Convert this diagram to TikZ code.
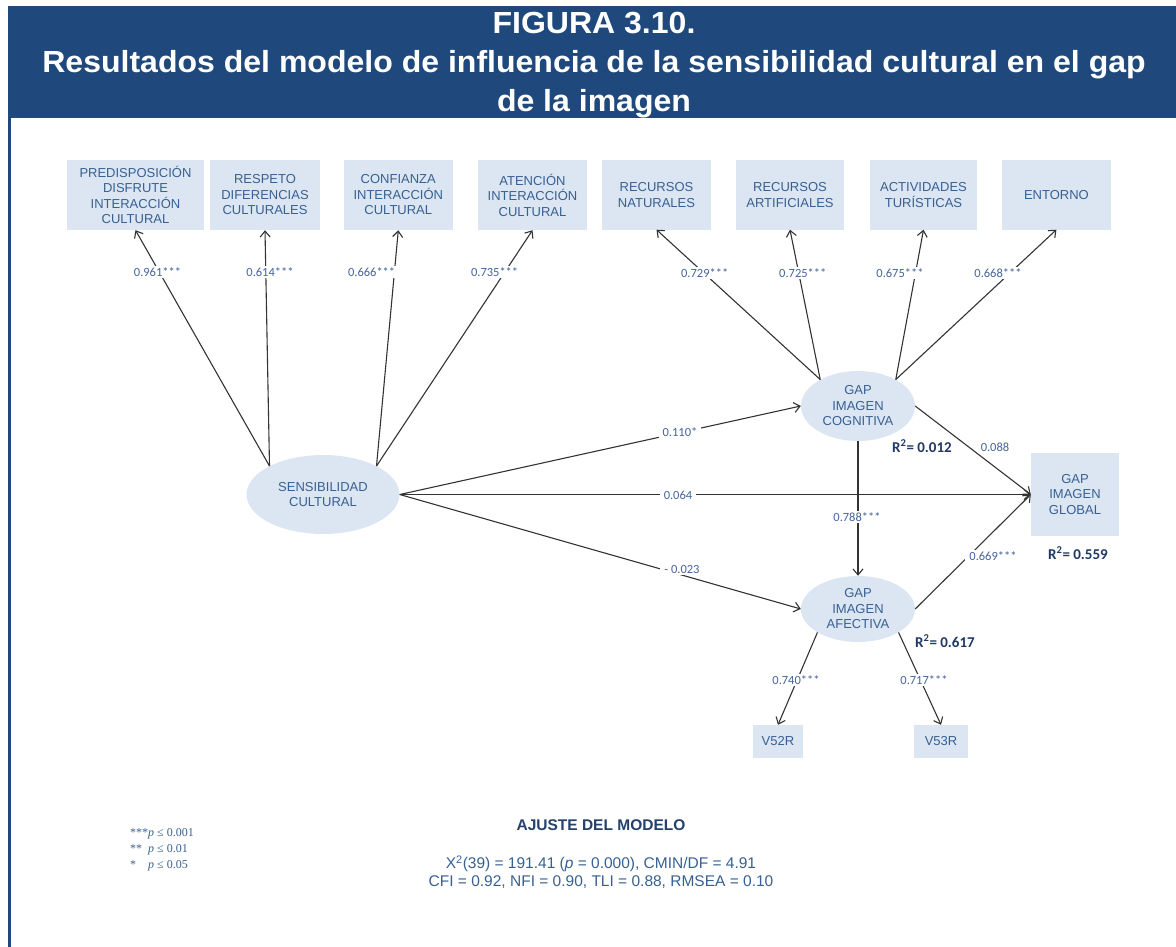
\documentclass[tikz,border=0pt]{standalone}
\usepackage{fontspec}
\setmainfont{Liberation Sans}
\newfontfamily\calibri{Carlito}
\newfontfamily\timesf{Liberation Serif}
\newfontfamily\titulof[FakeStretch=1.05]{Liberation Sans}
\usepackage{xcolor}
\usetikzlibrary{positioning,arrows.meta,shapes.geometric}

\definecolor{barra}{RGB}{31,73,125}
\definecolor{fondo}{RGB}{220,230,242}
\definecolor{texto}{RGB}{55,96,146}
\definecolor{coefazul}{RGB}{68,100,155}
\definecolor{rdos}{RGB}{31,56,100}

\begin{document}
\begin{tikzpicture}[x=1pt,y=-1pt,
    obs/.style={rectangle, fill=fondo, text=texto, align=center, inner sep=0pt,
        font=\fontsize{13}{15.5}\selectfont},
    lat/.style={ellipse, fill=fondo, text=texto, align=center, inner sep=0pt,
        font=\fontsize{13}{15.5}\selectfont},
    coef/.style={fill=white, text=coefazul, inner xsep=4pt, inner ysep=2pt,
        font=\calibri\fontsize{12.5}{14}\selectfont},
    rcuad/.style={text=rdos, inner sep=0pt, font=\calibri\bfseries\fontsize{15}{17}\selectfont},
    flecha/.style={draw=black!80, line width=1.1pt, -{Straight Barb[length=6pt,width=10pt]}}]
    \useasboundingbox (0,0) rectangle (1176,947);
    % Cabecera
    \fill[barra] (8,6) rectangle (1176,118);
    \fill[barra] (8,118) rectangle (11,947);
    \node[text=white, align=center, font=\titulof\bfseries\fontsize{30.5}{39}\selectfont] (titulo) at (594,65)
        {FIGURA 3.10.\\Resultados del modelo de influencia de la sensibilidad cultural en el gap\\de la imagen};
    % Indicadores de sensibilidad cultural
    \node[obs, minimum width=137, minimum height=70] (pred) at (135.5,195) {PREDISPOSICIÓN\\DISFRUTE\\INTERACCIÓN\\CULTURAL};
    \node[obs, minimum width=110, minimum height=70] (resp) at (265,195) {RESPETO\\DIFERENCIAS\\CULTURALES};
    \node[obs, minimum width=109, minimum height=70] (conf) at (398.3,195) {CONFIANZA\\INTERACCIÓN\\CULTURAL};
    \node[obs, minimum width=109, minimum height=70] (aten) at (532.5,195) {ATENCIÓN\\INTERACCIÓN\\CULTURAL};
    % Indicadores de imagen cognitiva
    \node[obs, minimum width=109, minimum height=69] (nat) at (656.5,195) {RECURSOS\\NATURALES};
    \node[obs, minimum width=108, minimum height=69] (art) at (790,195) {RECURSOS\\ARTIFICIALES};
    \node[obs, minimum width=107, minimum height=69] (act) at (923.5,195) {ACTIVIDADES\\TURÍSTICAS};
    \node[obs, minimum width=109, minimum height=69] (ent) at (1056.4,195) {ENTORNO};
    % Variables latentes
    \node[lat, minimum width=153, minimum height=79] (sc) at (323,494.5) {SENSIBILIDAD\\CULTURAL};
    \node[lat, minimum width=114, minimum height=70] (cog) at (858,406) {GAP\\IMAGEN\\COGNITIVA};
    \node[lat, minimum width=114, minimum height=66] (afe) at (858,609) {GAP\\IMAGEN\\AFECTIVA};
    \node[obs, minimum width=88, minimum height=83] (glob) at (1075,494.5) {GAP\\IMAGEN\\GLOBAL};
    \node[obs, minimum width=50, minimum height=33] (v52) at (778,741.5) {V52R};
    \node[obs, minimum width=54, minimum height=33] (v53) at (941,741.5) {V53R};
    % Relaciones
    \draw[flecha] (sc.152) -- (pred.south);
    \draw[flecha] (sc.152) -- (resp.south);
    \draw[flecha] (sc.28) -- (conf.south);
    \draw[flecha] (sc.28) -- (aten.south);
    \draw[flecha] (cog.145) -- (nat.south);
    \draw[flecha] (cog.145) -- (art.south);
    \draw[flecha] (cog.35) -- (act.south);
    \draw[flecha] (cog.35) -- (ent.south);
    \draw[flecha] (sc.east) -- (cog.west);
    \draw[flecha] (sc.east) -- (glob.west);
    \draw[flecha] (sc.east) -- (afe.west);
    \draw[flecha] (cog.east) -- (glob.west);
    \draw[flecha] (cog.south) -- (afe.north);
    \draw[flecha] (afe.east) -- (glob.west);
    \draw[flecha] (afe.210) -- (v52.north);
    \draw[flecha] (afe.330) -- (v53.north);
    % Coeficientes
    \node[coef] (c1) at (157.5,272) {0.961***};
    \node[coef] (c2) at (270,272) {0.614***};
    \node[coef] (c3) at (371.6,272) {0.666***};
    \node[coef] (c4) at (494.6,272) {0.735***};
    \node[coef] (c5) at (704.7,273) {0.729***};
    \node[coef] (c6) at (802.8,273) {0.725***};
    \node[coef] (c7) at (900,273) {0.675***};
    \node[coef] (c8) at (998,273) {0.668***};
    \node[coef] (c9) at (680,432) {0.110*};
    \node[coef] (c10) at (678,495) {0.064};
    \node[coef] (c11) at (682,569) {- 0.023};
    \node[coef] (c12) at (995,447) {0.088};
    \node[coef] (c13) at (857,517) {0.788***};
    \node[coef] (c14) at (993,556) {0.669***};
    \node[coef] (c15) at (796,680) {0.740***};
    \node[coef] (c16) at (924,680) {0.717***};
    % R cuadrado
    \node[rcuad] (r1) at (922,446) {R\textsuperscript{2}= 0.012};
    \node[rcuad] (r2) at (1078,553) {R\textsuperscript{2}= 0.559};
    \node[rcuad] (r3) at (945,641) {R\textsuperscript{2}= 0.617};
    % Leyenda
    \node[anchor=base west, inner sep=0pt, text=texto, font=\timesf\fontsize{12}{16}\selectfont, align=left] (ley) at (130,868)
        {***\textit{p} ≤ 0.001\\** \ \textit{p} ≤ 0.01\\* \ \ \ \textit{p} ≤ 0.05};
    % Ajuste del modelo
    \node[text=rdos!80!texto, font=\bfseries\fontsize{15.5}{17}\selectfont] (ajuste) at (601,825) {AJUSTE DEL MODELO};
    \node[text=texto, align=center, font=\fontsize{15.5}{18}\selectfont] (indices) at (601,872)
        {X\textsuperscript{2}(39) = 191.41 (\textit{p} = 0.000), CMIN/DF = 4.91\\CFI = 0.92, NFI = 0.90, TLI = 0.88, RMSEA = 0.10};
\end{tikzpicture}
\end{document}
